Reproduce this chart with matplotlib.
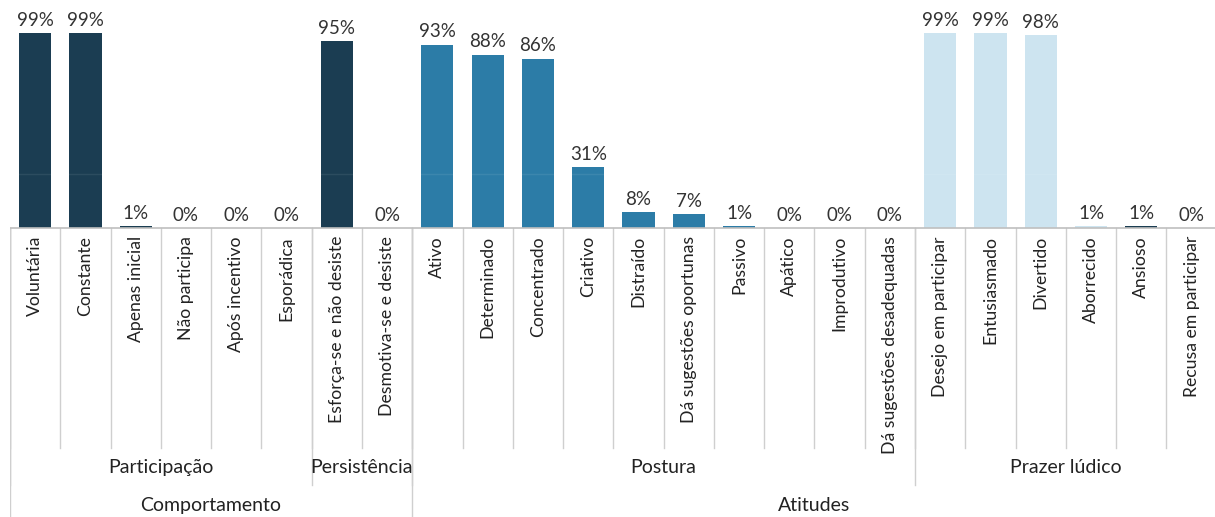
import numpy as np
import matplotlib.pyplot as plt

plt.rcParams['font.family'] = ['Lato', 'DejaVu Sans']

categories = ['Voluntária', 'Constante', 'Apenas inicial', 'Não participa', 'Após incentivo',
              'Esporádica', 'Esforça-se e não desiste', 'Desmotiva-se e desiste',
              'Ativo', 'Determinado', 'Concentrado', 'Criativo', 'Distraído',
              'Dá sugestões oportunas', 'Passivo', 'Apático', 'Improdutivo',
              'Dá sugestões desadequadas',
              'Desejo em participar', 'Entusiasmado', 'Divertido', 'Aborrecido', 'Ansioso',
              'Recusa em participar']
values = [99, 99, 1, 0, 0, 0, 95, 0,
          93, 88, 86, 31, 8, 7, 1, 0, 0, 0,
          99, 99, 98, 1, 1, 0]
# sub-groups (name, count) and top groups (name, count)
subgroups = [('Participação', 6), ('Persistência', 2), ('Postura', 10), ('Prazer lúdico', 6)]
topgroups = [('Comportamento', 8), ('Atitudes', 16)]

c_dark = '#1b3d52'
c_mid = '#2c7ca7'
c_light = '#cde4f0'
colors = [c_dark] * 8 + [c_mid] * 10 + [c_light] * 5 + [c_dark]
colors[21] = c_light
colors[22] = c_dark

W, H = 1215, 517
fig = plt.figure(figsize=(W / 100, H / 100), dpi=100)
x0, x1 = 10, 10 + 24 * 50.28
ax = fig.add_axes([x0 / W, 0, (x1 - x0) / W, 1])
base_px = 228
unit = 1.97  # px per percent
ax.set_xlim(-0.5, 23.5)
ax.set_ylim(-(H - base_px) / unit, base_px / unit)
ax.axis('off')


def py(p):
    return (base_px - p) / unit


x = np.arange(len(categories))
ax.bar(x, values, width=0.64, color=colors, zorder=2)
ax.axhline(27.4, color='white', alpha=0.08, lw=1, zorder=3)
for xi, v in zip(x, values):
    ax.text(xi, v + 2.2, f'{v}%', ha='center', va='bottom', fontsize=13.5, color='#333333')

# baseline
ax.plot([-0.5, 23.5], [0, 0], color='#bfbfbf', lw=1.2, zorder=4)

sep_kw = dict(color='#cfcfcf', lw=1, zorder=1)
# level-1 separators
for i in range(25):
    ax.plot([i - 0.5, i - 0.5], [0, py(448)], **sep_kw)
# category labels
for xi, c in zip(x, categories):
    ax.text(xi, py(236), c, rotation=90, ha='center', va='top', fontsize=12.7, color='#222222')

# sub-group separators and labels
start = 0
for name, n in subgroups:
    ax.plot([start - 0.5, start - 0.5], [0, py(485)], **sep_kw)
    ax.text(start + n / 2 - 0.5, py(467), name, ha='center', va='center', fontsize=14, color='#222222')
    start += n
ax.plot([start - 0.5, start - 0.5], [0, py(485)], **sep_kw)

start = 0
for name, n in topgroups:
    ax.plot([start - 0.5, start - 0.5], [0, py(H)], **sep_kw)
    ax.text(start + n / 2 - 0.5, py(505), name, ha='center', va='center', fontsize=14, color='#222222')
    start += n
ax.plot([start - 0.5, start - 0.5], [0, py(H)], **sep_kw)

fig.savefig('out.png', dpi=100)
